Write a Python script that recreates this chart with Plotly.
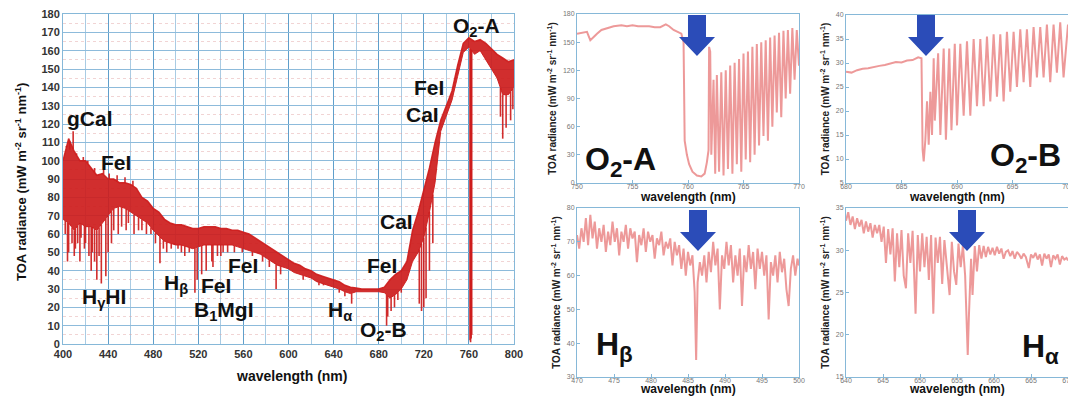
import plotly.graph_objects as go
import numpy as np

# ---------------- data ----------------
# main spectrum envelope (5 nm grid)
main_wl = list(range(400, 805, 5))
main_hi = [100, 112, 105, 100, 100, 96, 92, 93, 90, 90, 88, 88, 87, 85, 80, 78, 74, 72, 68, 66,
           65, 65, 64, 63, 63, 64, 64, 64, 63, 63, 62, 62, 61, 60, 58, 56, 54, 52, 50, 48,
           46, 44, 43, 41, 40, 38, 37, 36, 35, 34, 32, 31, 30.5, 30, 30, 30, 30, 31, 35, 38,
           40, 45, 62, 72, 84, 96, 110, 122, 130, 138, 152, 164, 167, 165, 166, 164, 161, 158, 156, 154, 155]
main_lo = [68, 66, 62, 66, 64, 64, 62, 66, 70, 74, 75, 74, 72, 70, 68, 66, 62, 59, 56, 55,
           54, 54, 53, 52, 53, 54, 54, 54, 54, 54, 54, 53, 52, 51, 50, 49, 47, 45, 43, 42,
           41, 39, 38, 37, 36, 34, 33, 32, 31, 30, 28.5, 27.5, 28.5, 28.5, 28.5, 28.5, 28.5, 28, 25, 27,
           30, 35, 45, 50, 58, 72, 88, 116, 125, 133, 146, 159, 162, 158, 160, 155, 150, 145, 136, 136, 140]
# absorption line bottoms in the main spectrum
dip_wl = [402, 404, 405, 408, 410, 411, 413, 415, 416, 419, 420, 423, 425, 426, 428, 430, 432, 434,
          438, 440, 443, 445, 449, 452, 456, 458, 463, 467, 470, 474, 478, 482, 486, 489, 492, 496,
          499, 502, 505, 508, 512, 517, 519, 523, 527, 532, 533, 537, 540, 542, 546, 552, 559, 568,
          577, 583, 589, 593, 613, 627, 631, 645, 650, 656, 687, 688, 691, 694, 697, 700, 716, 718,
          720, 722, 725, 728, 761, 761.5, 762, 762.5, 788, 790, 793, 797, 799]
dip_lo = [60, 45, 50, 55, 48, 52, 55, 45, 58, 52, 55, 48, 40, 50, 45, 35, 48, 33,
          37, 50, 55, 62, 60, 64, 62, 66, 60, 62, 62, 60, 60, 55, 44, 52, 50, 52,
          55, 52, 50, 48, 50, 28, 35, 38, 40, 45, 42, 48, 48, 50, 50, 50, 50, 48,
          45, 42, 30, 38, 35, 32, 32, 28, 26, 22, 10, 15, 18, 20, 24, 28, 22, 18,
          20, 25, 40, 55, 2, 1, 3, 5, 124, 112, 118, 122, 128]
# upward spikes (line peaks) above the main envelope
peak_wl = [403, 406, 409, 412, 418, 422, 428, 436, 441, 448, 455, 462]
peak_hi = [108, 106, 116, 104, 102, 100, 96, 95, 93, 92, 91, 89]

# O2-A zoom
o2a_wl = [750.0, 750.5, 750.9, 751.2, 751.5, 751.8, 752.2, 752.7, 753.3, 754.0, 754.5, 755.0, 755.5,
          756.0, 756.5, 757.0, 757.5, 758.0, 758.3, 758.7, 759.1, 759.4, 759.6, 759.7, 759.9, 760.1,
          760.4, 760.8, 761.2, 761.5, 761.7, 761.85, 761.9, 762.0, 762.1, 762.3, 762.45, 762.6, 762.8,
          763.0, 763.2, 763.4, 763.6, 763.8, 764.0, 764.2, 764.4, 764.6, 764.8, 765.0, 765.2, 765.4,
          765.6, 765.8, 766.0, 766.2, 766.4, 766.6, 766.8, 767.0, 767.2, 767.4, 767.6, 767.8, 768.0,
          768.2, 768.4, 768.6, 768.8, 769.0, 769.2, 769.4, 769.6, 769.8, 770.0]
o2a_val = [159, 160, 161, 152, 156, 159, 163, 165, 167, 168, 167, 168, 167,
           167, 167, 166, 166, 169, 167, 163, 161, 159, 150, 45, 30, 20,
           12, 8, 7, 10, 22, 35, 145, 140, 30, 110, 10, 115, 12,
           118, 8, 120, 15, 125, 10, 128, 20, 132, 12, 138, 25, 140,
           22, 145, 30, 148, 40, 150, 50, 152, 45, 155, 60, 157, 75,
           160, 70, 162, 90, 163, 95, 165, 110, 163, 125]

# O2-B zoom
o2b_wl = [680.0, 680.5, 681.0, 681.5, 682.0, 682.5, 683.0, 683.5, 684.0, 684.5, 685.0, 685.5, 686.0,
          686.5, 686.8, 686.9, 687.0, 687.15, 687.3, 687.45, 687.6, 687.75, 687.9, 688.0, 688.3, 688.5,
          688.8, 689.0, 689.3, 689.5, 689.8, 690.0, 690.3, 690.6, 690.9, 691.2, 691.5, 691.8, 692.1,
          692.4, 692.7, 693.0, 693.3, 693.6, 693.9, 694.2, 694.5, 694.8, 695.1, 695.4, 695.7, 696.0,
          696.3, 696.6, 696.9, 697.2, 697.5, 697.8, 698.1, 698.4, 698.7, 699.0, 699.3, 699.6, 700.0]
o2b_val = [28.2, 28.0, 28.5, 28.8, 28.9, 29.2, 29.4, 29.6, 29.9, 30.2, 30.1, 30.5, 30.6,
           31.2, 31.0, 12, 9.5, 14, 22, 13, 24, 15, 31, 18, 32, 15,
           33, 14, 33, 16, 34, 17, 34, 19, 34.5, 19, 35, 21, 35,
           21, 35.5, 22, 36, 23, 36, 22, 36.5, 24, 36.5, 25, 37, 26,
           37, 25, 37.5, 27, 37.5, 27, 38, 26, 38, 28, 38.5, 27, 38]

# H-beta zoom
hb_wl = [470.0, 470.3, 470.6, 470.9, 471.2, 471.5, 471.8, 472.1, 472.4, 472.7, 473.0, 473.3, 473.6,
         473.9, 474.2, 474.5, 474.8, 475.1, 475.4, 475.7, 476.0, 476.3, 476.6, 476.9, 477.2, 477.5,
         477.8, 478.1, 478.4, 478.7, 479.0, 479.3, 479.6, 479.9, 480.2, 480.5, 480.8, 481.1, 481.4,
         481.7, 482.0, 482.3, 482.6, 482.9, 483.2, 483.5, 483.8, 484.1, 484.4, 484.7, 485.0, 485.3,
         485.6, 485.9, 486.1, 486.3, 486.6, 486.9, 487.2, 487.5, 487.8, 488.1, 488.4, 488.7, 489.0,
         489.3, 489.6, 489.9, 490.2, 490.5, 490.8, 491.1, 491.4, 491.7, 492.0, 492.3, 492.6, 492.9,
         493.2, 493.5, 493.8, 494.1, 494.4, 494.7, 495.0, 495.3, 495.6, 495.9, 496.2, 496.5, 496.8,
         497.1, 497.4, 497.7, 498.0, 498.3, 498.6, 498.9, 499.2, 499.5, 499.8, 500.0]
hb_val = [72, 68, 74, 70, 77, 69, 78, 71, 76, 68, 74, 70, 75,
          67, 73, 69, 76, 70, 74, 66, 73, 70, 75, 68, 74, 71,
          73, 64, 72, 69, 74, 67, 73, 70, 72, 65, 71, 69, 73,
          66, 70, 68, 71, 63, 70, 66, 69, 62, 68, 60, 67, 63,
          66, 55, 35, 58, 64, 60, 66, 58, 67, 61, 70, 63, 68,
          50, 66, 62, 70, 63, 69, 58, 66, 60, 68, 51, 66, 61,
          69, 62, 67, 56, 68, 62, 67, 60, 66, 47, 64, 60, 66,
          58, 67, 61, 65, 56, 51, 62, 66, 60, 65, 63]

# H-alpha zoom
ha_wl = [640.0, 640.3, 640.6, 640.9, 641.2, 641.5, 641.8, 642.1, 642.4, 642.7, 643.0, 643.3, 643.6,
         643.9, 644.2, 644.5, 644.8, 645.1, 645.4, 645.7, 646.0, 646.3, 646.6, 646.9, 647.2, 647.5,
         647.8, 648.1, 648.4, 648.7, 649.0, 649.4, 649.7, 650.0, 650.3, 650.6, 650.9, 651.2, 651.5,
         651.8, 652.1, 652.4, 652.7, 653.0, 653.3, 653.6, 654.0, 654.3, 654.6, 654.9, 655.2, 655.5,
         655.8, 656.1, 656.3, 656.45, 656.6, 656.9, 657.1, 657.4, 657.7, 658.0, 658.3, 658.6, 658.9,
         659.2, 659.5, 659.8, 660.1, 660.4, 660.7, 661.0, 661.3, 661.6, 661.9, 662.2, 662.5, 662.8,
         663.1, 663.4, 663.7, 664.0, 664.3, 664.7, 665.0, 665.3, 665.6, 665.9, 666.2, 666.5, 666.8,
         667.1, 667.4, 667.7, 668.0, 668.3, 668.6, 668.9, 669.2, 669.5, 669.8, 670.0]
ha_val = [33.5, 34.5, 33.0, 34.0, 32.5, 33.8, 32.8, 33.6, 32.0, 33.4, 32.2, 33.2, 31.5,
          33.0, 32.0, 33.0, 31.0, 32.8, 28.5, 32.5, 29.5, 32.6, 26.3, 32.0, 28.0, 32.4,
          27.0, 25.5, 32.0, 28.5, 32.3, 22.5, 31.8, 27.5, 32.0, 28.0, 31.6, 26.5, 31.8,
          22.5, 31.5, 28.5, 31.6, 26.0, 31.2, 28.0, 24.7, 31.0, 27.5, 25.9, 30.8, 28.0,
          30.6, 27.0, 20.0, 17.6, 22.0, 29.0, 24.7, 30.5, 27.5, 30.6, 29.0, 30.5, 29.2,
          30.4, 29.5, 30.3, 29.4, 30.4, 29.6, 30.2, 29.0, 29.8, 30.0, 29.3, 29.9, 29.0,
          29.8, 29.5, 29.0, 29.6, 29.2, 27.9, 29.5, 29.1, 29.7, 28.9, 29.5, 28.2, 29.6,
          29.0, 29.5, 28.0, 29.4, 29.0, 29.5, 28.3, 29.3, 28.9, 29.1, 28.8]

main_x_ticks = [400, 440, 480, 520, 560, 600, 640, 680, 720, 760, 800]

# ---------------- layout helpers ----------------
OFF = 8                      # page body margin of the html page
W, H = 1076 - OFF, 396 - OFF
FONT = "Liberation Sans, Arial, sans-serif"
RED = "rgba(205,28,28,0.92)"
PINK = "rgba(222,70,70,0.55)"
FRAME = "#86b8d8"
BLUE = "#2b4cb8"


def px(x):
    return (x - OFF) / W


def py(y):
    return 1 - (y - OFF) / H


def xd(a, b):
    return [px(a), px(b)]


def yd(top, bot):
    return [py(bot), py(top)]


fig = go.Figure()

# main band
fig.add_trace(go.Scatter(x=main_wl, y=main_lo, mode="lines", line=dict(color=RED, width=1),
                         xaxis="x", yaxis="y", showlegend=False, hoverinfo="skip"))
fig.add_trace(go.Scatter(x=main_wl, y=main_hi, mode="lines", line=dict(color=RED, width=1.5),
                         fill="tonexty", fillcolor=RED, xaxis="x", yaxis="y", showlegend=False))
dip_top = np.interp(dip_wl, main_wl, main_lo)
dx, dy = [], []
for w, t, b in zip(dip_wl, dip_top, dip_lo):
    dx += [w, w, None]
    dy += [t, b, None]
peak_base = np.interp(peak_wl, main_wl, main_hi)
for w, b, t in zip(peak_wl, peak_base, peak_hi):
    dx += [w, w, None]
    dy += [b, t, None]
fig.add_trace(go.Scatter(x=dx, y=dy, mode="lines", line=dict(color=RED, width=1.6),
                         xaxis="x", yaxis="y", showlegend=False))

# zoom panels
for xs, ys, ax in [(o2a_wl, o2a_val, "2"), (o2b_wl, o2b_val, "3"), (hb_wl, hb_val, "4"), (ha_wl, ha_val, "5")]:
    fig.add_trace(go.Scatter(x=xs, y=ys, mode="lines", line=dict(color=PINK, width=2),
                             xaxis="x" + ax, yaxis="y" + ax, showlegend=False))

ytitle = "TOA radiance (mW m<sup>-2</sup> sr<sup>-1</sup> nm<sup>-1</sup>)"

layout = dict(
    width=W, height=H, margin=dict(l=0, r=0, t=0, b=0, autoexpand=False),
    paper_bgcolor="white", plot_bgcolor="white",
    font=dict(family=FONT, color="#222"),
    xaxis=dict(domain=xd(63, 514), range=[400, 800], tickvals=main_x_ticks, automargin=False,
               showgrid=True, gridcolor="#5f9fcb", gridwidth=1, ticklabeloverflow="allow",
               minor=dict(dtick=20, showgrid=True, gridcolor="#a9cbe3", gridwidth=1),
               showline=True, linecolor=FRAME, mirror=True, zeroline=False,
               tickfont=dict(size=11, weight="bold", color="#333"), anchor="y"),
    yaxis=dict(domain=yd(14, 344), range=[0, 180], dtick=10, automargin=False,
               showgrid=True, gridcolor="#8dbbdb", gridwidth=1, ticklabeloverflow="allow",
               minor=dict(dtick=5, showgrid=True, gridcolor="rgba(225,160,160,0.45)", gridwidth=1,
                          griddash="dot"),
               showline=True, linecolor=FRAME, mirror=True, zeroline=False,
               tickfont=dict(size=11, weight="bold", color="#333"), anchor="x"),
)

small = [
    ("2", xd(577, 799), yd(14, 183), [750, 770], 5, [0, 180], 30),
    ("3", xd(846, 1068), yd(15, 183), [680, 700], 5, [5, 40], 5),
    ("4", xd(577, 799), yd(208, 377), [470, 500], 5, [30, 80], 10),
    ("5", xd(846, 1068), yd(208, 377), [640, 670], 5, [15, 35], 5),
]
for ax, xdom, ydom, xr, xdt, yr, ydt in small:
    common = dict(showgrid=False, showline=True, linecolor=FRAME, mirror=True, zeroline=False,
                  ticks="inside", ticklen=3, tickcolor=FRAME, automargin=False,
                  ticklabeloverflow="allow", tickfont=dict(size=7, color="#777"))
    layout["xaxis" + ax] = dict(domain=xdom, range=xr, dtick=xdt, anchor="y" + ax,
                                ticklabelstandoff=-3, **common)
    layout["yaxis" + ax] = dict(domain=ydom, range=yr, dtick=ydt, anchor="x" + ax,
                                title=dict(text="<b>" + ytitle + "</b>", standoff=4,
                                           font=dict(size=10, color="#222")), **common)

fig.update_layout(**layout)

ann = []


def txt(x, y, text, size, angle=0, xanchor="center"):
    ann.append(dict(x=px(x), y=py(y), xref="paper", yref="paper", text=text, textangle=angle,
                    xanchor=xanchor, yanchor="middle", showarrow=False,
                    font=dict(size=size, color="#111")))


# main axis titles
txt(291, 376, "<b>wavelength (nm)</b>", 14)
txt(21, 182, "<b>" + ytitle + "</b>", 13, angle=-90)
# small panel x titles
for cx, cy in [(688, 197), (957, 197), (688, 389), (957, 389)]:
    txt(cx, cy, "<b>wavelength (nm)</b>", 12)

# spectral line labels on main panel
labels = [
    ("gCal", 424, 123), ("FeI", 447, 99), ("FeI", 725, 140), ("CaI", 719, 125),
    ("O<sub>2</sub>-A", 767, 173), ("H<sub>γ</sub>HI", 436, 25), ("H<sub>β</sub>", 500, 33),
    ("FeI", 536, 32), ("FeI", 560, 43), ("B<sub>1</sub>MgI", 543, 18), ("H<sub>α</sub>", 646, 18),
    ("O<sub>2</sub>-B", 684, 7), ("CaI", 696, 67), ("FeI", 683, 43),
]
for t, x, y in labels:
    ann.append(dict(x=x, y=y, xref="x", yref="y", text="<b>" + t + "</b>", showarrow=False,
                    xanchor="center", yanchor="middle", font=dict(size=21, color="#111")))

# big panel labels
txt(583, 162, "<b>O<sub>2</sub>-A</b>", 32, xanchor="left")
txt(1063, 157, "<b>O<sub>2</sub>-B</b>", 32, xanchor="right")
txt(594, 346, "<b>H<sub>β</sub></b>", 32, xanchor="left")
txt(1061, 348, "<b>H<sub>α</sub></b>", 32, xanchor="right")
fig.update_layout(annotations=ann)

# blue arrows
shapes = []
for cx, top in [(697, 15), (926, 15), (698, 210), (967, 210)]:
    sw, hw, sl, hl = 9, 18, 22, 19
    pts = [(cx - sw, top), (cx + sw, top), (cx + sw, top + sl), (cx + hw, top + sl),
           (cx, top + sl + hl), (cx - hw, top + sl), (cx - sw, top + sl)]
    path = "M " + " L ".join(f"{px(x):.5f},{py(y):.5f}" for x, y in pts) + " Z"
    shapes.append(dict(type="path", path=path, xref="paper", yref="paper",
                       fillcolor=BLUE, line=dict(width=0)))
fig.update_layout(shapes=shapes)

fig.write_html("out.html")
